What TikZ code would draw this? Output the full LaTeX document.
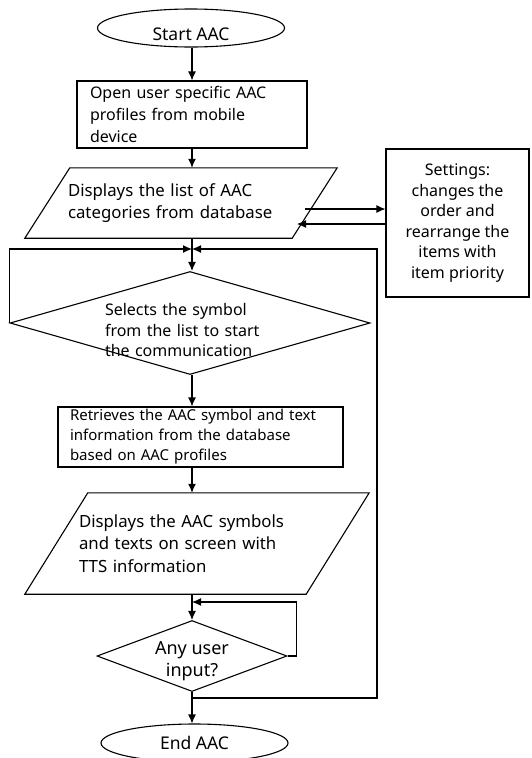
\documentclass[tikz,border=0pt]{standalone}
\usepackage{fontspec}
\setmainfont{Noto Sans}
\usetikzlibrary{shapes.geometric,arrows.meta}

\tikzset{
  flowline/.style={line width=1.1pt},
  arrowline/.style={flowline, -{Latex[length=9pt,width=8pt]}},
  every node/.style={font=\fontsize{16}{20.5}\selectfont, inner sep=0pt},
  terminal/.style={ellipse, draw, flowline, minimum width=187pt, minimum height=38pt,
    font=\fontsize{17.5}{21}\selectfont},
  process/.style={rectangle, draw, flowline, align=left},
  iobox/.style={rectangle, align=left, font=\fontsize{16.8}{22.3}\selectfont},
  decision/.style={diamond, draw, flowline}
}
% slanted frame round an iobox node, #2 = horizontal offset of the slant
\newcommand{\ioframe}[2]{%
  \draw[flowline] ([xshift=#2]#1.north west) -- (#1.north east)
    -- ([xshift=-#2]#1.south east) -- (#1.south west) -- cycle;}

\begin{document}
\begin{tikzpicture}[x=1pt, y=-1pt]
  \useasboundingbox (0,0) rectangle (532,758);
  \coordinate (axis) at (192,0);

  % main column
  \node[terminal, text height=24pt, text depth=0pt] (start) at (191,28) {Start\ AAC};
  \node[process, minimum width=230pt, minimum height=67pt, text width=204pt,
    font=\fontsize{16}{21.7}\selectfont]
    (openprof) at (192,114.5) {Open user specific AAC\\profiles from mobile\\device};
  \node[iobox, minimum width=312pt, minimum height=70pt, text width=226pt]
    (catlist) at (181,203) {Displays the list of AAC\\categories from database};
  \ioframe{catlist}{45pt}
  \node[process, align=center, minimum width=143pt, minimum height=148pt]
    (settings) at (457.5,223) {Settings:\\changes the\\order and\\rearrange the\\items with\\item priority};
  \node[decision, minimum width=360pt, minimum height=103pt] (selsym) at (190,323) {};
  \node[text width=160pt, align=left] (selsymtext) at (185,330)
    {Selects the symbol\\from the list to start\\the communication};
  \node[process, minimum width=285pt, minimum height=60pt, text width=261pt,
    font=\fontsize{15}{20}\selectfont]
    (retrieve) at (200.5,437) {Retrieves the AAC symbol and text\\information from the database\\based on AAC profiles};
  \node[iobox, minimum width=344pt, minimum height=101pt, text width=236pt]
    (display) at (197,543.5) {Displays the AAC symbols\\and texts on screen with\\TTS information};
  \ioframe{display}{63pt}
  \node[decision, minimum width=190pt, minimum height=71pt] (anyinput) at (192,656) {};
  \node[align=center, font=\fontsize{18}{22}\selectfont] (anyinputtext) at (192,661) {Any user\\input?};
  \node[terminal] (finish) at (194.5,743) {End AAC};

  % junction points
  \coordinate (merge) at (192,249);
  \coordinate (backtop) at (377,249);
  \coordinate (branch) at (192,698);
  \coordinate (recheck) at (192,602);
  \coordinate (toset) at (305,209);
  \coordinate (fromset) at (297,224);

  \draw[arrowline] (start.south -| axis) -- (openprof.north -| axis);
  \draw[arrowline] (openprof.south -| axis) -- (catlist.north -| axis);
  \draw[arrowline] (toset) -- (toset -| settings.west);
  \draw[arrowline] (fromset -| settings.west) -- (fromset);
  \draw[arrowline] (catlist.south -| axis) -- (selsym.north -| axis);
  \draw[arrowline] (selsym.west) |- (merge);
  \draw[arrowline] (branch) -| (backtop) -- (merge);
  \draw[arrowline] (selsym.south -| axis) -- (retrieve.north -| axis);
  \draw[arrowline] (retrieve.south -| axis) -- (display.north -| axis);
  \draw[arrowline] (display.south -| axis) -- (anyinput.north -| axis);
  \draw[arrowline] (anyinput.east) -- ++(9,0) |- (recheck);
  \draw[arrowline] (anyinput.south) -- (finish.north -| axis);
\end{tikzpicture}
\end{document}
